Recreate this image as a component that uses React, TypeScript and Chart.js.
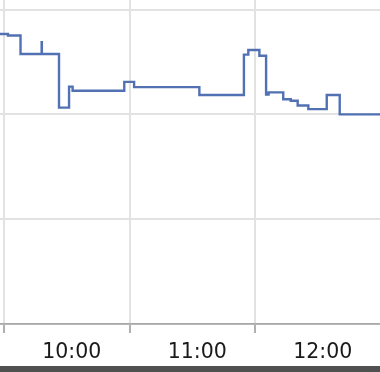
import React, { useEffect, useRef } from "react";
import { Chart, registerables } from "chart.js";

Chart.register(...registerables);

// Minutes after 10:00 at which the value changes
const changeTimes = [-2, 1.9, 7.9, 18.0, 18.1, 26.3, 31.1, 32.8, 57.5, 62.2, 93.4, 114.7, 116.8, 122.1, 125.3, 126.5, 133.5, 137.1, 140.4, 145.5, 154.3, 160.5, 181];
const changeValues = [27.67, 27.53, 25.76, 26.9, 25.76, 20.65, 22.65, 22.25, 23.1, 22.6, 21.85, 25.7, 26.15, 25.6, 21.9, 22.1, 21.45, 21.3, 20.85, 20.5, 21.85, 20.0, 20.0];

// Hour boundaries (grid lines) and hour labels (centred in each hour)
const hourTicks = [0, 60, 120];
const labelTicks = [30, 90, 150];
const hourLabels = ["10:00", "11:00", "12:00"];
const yTicks = [0, 10, 20, 30];

const X_MIN = -4 / (125.5 / 60);
const X_MAX = 376 / (125.5 / 60);
const Y_MIN = 0;
const Y_MAX = 324 / 10.48;

export default function App() {
  const ref = useRef<HTMLCanvasElement | null>(null);

  useEffect(() => {
    if (!ref.current) return;
    const allTicks = [...hourTicks, ...labelTicks].sort((a, b) => a - b);
    const points = changeTimes.map((t, i) => ({ x: t, y: changeValues[i] }));
    const chart = new Chart(ref.current, {
      type: "line",
      data: {
        datasets: [
          {
            data: points,
            borderColor: "#5171b3",
            borderWidth: 2.4,
            pointRadius: 0,
            stepped: "before",
            fill: false,
          },
        ],
      },
      options: {
        animation: false,
        responsive: false,
        maintainAspectRatio: false,
        layout: { padding: 0 },
        plugins: { legend: { display: false }, tooltip: { enabled: false } },
        scales: {
          x: {
            type: "linear",
            min: X_MIN,
            max: X_MAX,
            afterBuildTicks: (axis: any) => {
              axis.ticks = allTicks.map((v) => ({ value: v }));
            },
            afterFit: (axis: any) => {
              axis.height = 48;
              axis.paddingLeft = 0;
              axis.paddingRight = 0;
            },
            border: { display: true, color: "#a8a8a8", width: 1.8 },
            grid: {
              color: (ctx: any) =>
                ctx.tick && hourTicks.includes(ctx.tick.value) ? "#e2e2e2" : "rgba(0,0,0,0)",
              tickColor: (ctx: any) =>
                ctx.tick && hourTicks.includes(ctx.tick.value) ? "#a8a8a8" : "rgba(0,0,0,0)",
              lineWidth: 2,
              tickLength: 9,
              tickWidth: 1.8,
            },
            ticks: {
              autoSkip: false,
              maxRotation: 0,
              minRotation: 0,
              padding: 7,
              labelOffset: 5,
              color: "#1a1a1a",
              font: { family: "'DejaVu Sans', Verdana, sans-serif", size: 20.5 },
              callback: (v: any) => {
                const i = labelTicks.indexOf(Number(v));
                return i >= 0 ? hourLabels[i] : "";
              },
            },
          },
          y: {
            min: Y_MIN,
            max: Y_MAX,
            afterBuildTicks: (axis: any) => {
              axis.ticks = yTicks.map((v) => ({ value: v }));
            },
            afterFit: (axis: any) => {
              axis.width = 0;
              axis.paddingTop = 0;
              axis.paddingBottom = 0;
            },
            border: { display: false },
            grid: { color: "#e2e2e2", lineWidth: 2, drawTicks: false },
            ticks: { display: false },
          },
        },
      },
    });
    return () => chart.destroy();
  }, []);

  return (
    <div
      style={{
        position: "fixed",
        left: 0,
        top: 0,
        width: 380,
        height: 372,
        overflow: "hidden",
        background: "#fff",
      }}
    >
      <canvas ref={ref} width={380} height={372} style={{ display: "block", width: 380, height: 372 }} />
      <div
        style={{
          position: "absolute",
          left: 0,
          bottom: 0,
          width: 380,
          height: 6,
          background: "#505050",
        }}
      />
    </div>
  );
}
